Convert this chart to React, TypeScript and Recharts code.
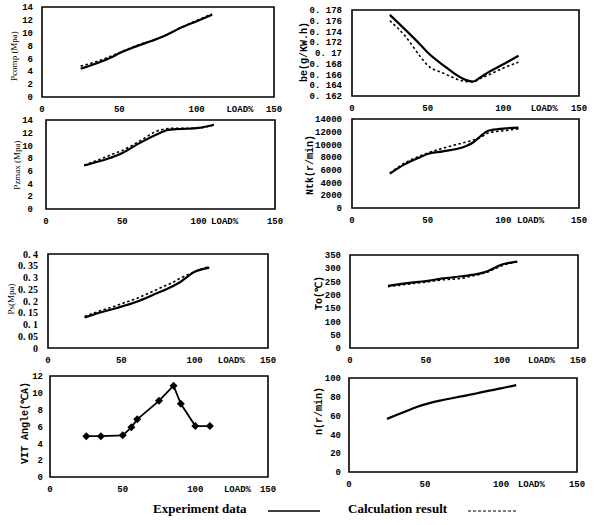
import React from 'react';
import { LineChart, Line, XAxis, YAxis, ReferenceArea } from 'recharts';

// Engine load points (LOAD %)
const loads = [25, 35, 45, 50, 60, 75, 80, 85, 90, 100, 110];

// Pcomp (Mpa)
const pcompExp = [4.4, 5.2, 6.2, 6.8, 7.8, 9.1, 9.6, 10.2, 10.8, 11.8, 12.8];
const pcompCalc = [4.8, 5.5, 6.4, 6.9, 7.9, 9.1, 9.6, 10.2, 10.8, 11.9, 12.9];

// be (g/KW.h)
const beExp = [0.1771, 0.1744, 0.1716, 0.1701, 0.1678, 0.165, 0.1647, 0.1655, 0.1664, 0.1679, 0.1695];
const beCalc = [0.176, 0.1732, 0.1694, 0.1677, 0.1663, 0.1647, 0.1646, 0.1653, 0.1659, 0.1672, 0.1683];

// Pzmax (Mpa)
const pzExp = [6.85, 7.5, 8.3, 8.8, 10.2, 12.0, 12.45, 12.55, 12.6, 12.75, 13.25];
const pzCalc = [6.9, 7.8, 8.75, 9.2, 10.5, 12.45, 12.65, 12.7, 12.7, 12.75, 13.25];

// Ntk (r/min)
const ntkExp = [5400, 6900, 8000, 8500, 8900, 9700, 10300, 11300, 12150, 12500, 12650];
const ntkCalc = [5500, 7100, 8200, 8650, 9400, 10350, 10650, 11100, 11800, 12150, 12450];

// Ps (Mpa)
const psExp = [0.13, 0.15, 0.167, 0.176, 0.196, 0.235, 0.248, 0.263, 0.28, 0.324, 0.342];
const psCalc = [0.134, 0.157, 0.177, 0.188, 0.21, 0.251, 0.265, 0.279, 0.296, 0.325, 0.347];

// To (℃)
const toExp = [234, 242, 249, 252, 261, 271, 275, 280, 288, 314, 325];
const toCalc = [231, 238, 245, 248, 256, 264, 271, 277, 285, 310, 325];

// n (r/min)
const nExp = [56.5, 63, 69.5, 72, 76, 80.8, 82.4, 84, 85.8, 88.9, 92.5];

// VIT Angle (℃A)
const vitLoads = [25, 35, 50, 56, 60, 75, 85, 90, 100, 110];
const vitAngle = [4.85, 4.85, 4.95, 5.9, 6.85, 9.05, 10.85, 8.7, 6.05, 6.05];

// Axis ticks
const pTicks = [0, 2, 4, 6, 8, 10, 12, 14];
const beTicks = [0.162, 0.164, 0.166, 0.168, 0.17, 0.172, 0.174, 0.176, 0.178];
const ntkTicks = [0, 2000, 4000, 6000, 8000, 10000, 12000, 14000];
const psTicks = [0, 0.05, 0.1, 0.15, 0.2, 0.25, 0.3, 0.35, 0.4];
const toTicks = [0, 50, 100, 150, 200, 250, 300, 350];
const vitTicks = [0, 2, 4, 6, 8, 10, 12];
const nTicks = [0, 20, 40, 60, 80, 100];

const rows = (xs: number[], a: number[], b?: number[]) =>
  xs.map((x, i) => ({ x, exp: a[i], calc: b ? b[i] : undefined }));

const fmtY = (v: number) => {
  const s = String(parseFloat(v.toFixed(3)));
  return s.replace('.', '. ');
};

const tickFont = { fontFamily: '"Liberation Mono", monospace', fontWeight: 700, fontSize: 9, fill: '#000' };
const serifTick = { fontFamily: '"Liberation Serif", serif', fontWeight: 700, fontSize: 10, fill: '#000' };

type PanelProps = {
  left: number; top: number; bw: number; bh: number;
  data: any[]; yMax: number; yMin: number; yTicks: number[];
  loadPos: number; yGap: number; label: string; labelX: number; labelY: number;
  labelSerif?: boolean; hasCalc?: boolean; vit?: boolean; yFont?: any;
};

const Diamond = (p: any) => {
  const { cx, cy, index } = p;
  if (cx == null || cy == null) return <g key={index} />;
  return <path key={index} d={`M${cx},${cy - 4}L${cx + 4},${cy}L${cx},${cy + 4}L${cx - 4},${cy}Z`} fill="#000" />;
};

function Panel(props: PanelProps) {
  const { left, top, bw, bh, data, yMax, yMin, yTicks, loadPos, yGap, label, labelX, labelY, labelSerif, hasCalc, vit, yFont } = props;
  const yW = 60, mt = 8, mr = 16, xH = 25;
  const ticks = [0, 50, 100, loadPos, 150];
  return (
    <>
      <div style={{ position: 'absolute', left: left - yW, top: top - mt }}>
        <LineChart width={yW + bw + mr} height={mt + bh + xH} data={data} margin={{ top: mt, right: mr, bottom: 0, left: 0 }}>
          <XAxis dataKey="x" type="number" domain={[0, 150]} ticks={ticks} interval={0} height={xH}
            axisLine={false} tickLine={false} tickSize={0} tickMargin={9} tick={tickFont}
            tickFormatter={(v: number) => (v === loadPos ? 'LOAD%' : String(v))} />
          <YAxis type="number" domain={[yMin, yMax]} ticks={yTicks} interval={0} width={yW}
            axisLine={false} tickLine={false} tickSize={0} tickMargin={yGap} tick={yFont || tickFont}
            tickFormatter={fmtY} allowDataOverflow />
          {hasCalc && (
            <Line dataKey="calc" type="monotone" stroke="#000" strokeWidth={1.6} strokeDasharray="2.5 2.5"
              dot={false} isAnimationActive={false} />
          )}
          <Line dataKey="exp" type={vit ? 'linear' : 'monotone'} stroke="#000" strokeWidth={vit ? 1.8 : 2.2}
            dot={vit ? Diamond : false} isAnimationActive={false} />
          <ReferenceArea x1={0} x2={150} y1={yMin} y2={yMax} fill="none" stroke="#000" strokeWidth={1.6} ifOverflow="visible" />
        </LineChart>
      </div>
      <div style={{
        position: 'absolute', left: labelX, top: labelY, transform: 'translate(-50%, -50%) rotate(-90deg)',
        whiteSpace: 'nowrap', lineHeight: 1,
        fontFamily: labelSerif ? '"Liberation Serif", serif' : '"Liberation Mono", monospace',
        fontWeight: labelSerif ? 400 : 700, fontSize: labelSerif ? 9 : 10, color: '#000',
      }}>{label}</div>
    </>
  );
}

export default function App() {
  return (
    <div style={{ position: 'absolute', left: 0, top: 0, width: 600, height: 525, background: '#fff', overflow: 'hidden' }}>
      <Panel left={42} top={7} bw={232} bh={90} data={rows(loads, pcompExp, pcompCalc)} yMin={0} yMax={14} yTicks={pTicks}
        loadPos={128} yGap={9} label="Pcomp (Mpa)" labelX={14} labelY={56} labelSerif hasCalc />
      <Panel left={352} top={10} bw={227} bh={86} data={rows(loads, beExp, beCalc)} yMin={0.162} yMax={0.178} yTicks={beTicks}
        loadPos={127} yGap={10} label="be(g/KW.h)" labelX={305} labelY={52} hasCalc />
      <Panel left={46} top={120} bw={229} bh={89} data={rows(loads, pzExp, pzCalc)} yMin={0} yMax={14} yTicks={pTicks}
        loadPos={117} yGap={13} label="Pzmax (Mpa)" labelX={17} labelY={165} labelSerif hasCalc />
      <Panel left={352} top={119} bw={227} bh={89} data={rows(loads, ntkExp, ntkCalc)} yMin={0} yMax={14000} yTicks={ntkTicks}
        loadPos={118} yGap={10} label="Ntk(r/min)" labelX={311} labelY={165} hasCalc />
      <Panel left={48} top={254} bw={220} bh={94} data={rows(loads, psExp, psCalc)} yMin={0} yMax={0.4} yTicks={psTicks}
        loadPos={125} yGap={10} label="Ps(Mpa)" labelX={11} labelY={299} labelSerif hasCalc yFont={serifTick} />
      <Panel left={350} top={255} bw={228} bh={93} data={rows(loads, toExp, toCalc)} yMin={0} yMax={350} yTicks={toTicks}
        loadPos={126} yGap={9} label="To(℃)" labelX={320} labelY={293} hasCalc />
      <Panel left={50} top={376} bw={218} bh={101} data={rows(vitLoads, vitAngle)} yMin={0} yMax={12} yTicks={vitTicks}
        loadPos={129} yGap={7} label="VIT Angle(℃A)" labelX={26} labelY={423} vit />
      <Panel left={349} top={378} bw={228} bh={94} data={rows(loads, nExp)} yMin={0} yMax={100} yTicks={nTicks}
        loadPos={120} yGap={8} label="n(r/min)" labelX={320} labelY={411} />
      <svg style={{ position: 'absolute', left: 0, top: 496 }} width={600} height={28}>
        <g style={{ fontFamily: '"Liberation Serif", serif', fontWeight: 700, fontSize: 13 }} fill="#000">
          <text x={153} y={17}>Experiment data</text>
          <text x={348} y={17}>Calculation result</text>
        </g>
        <line x1={268} x2={320} y1={15} y2={15} stroke="#000" strokeWidth={1.5} />
        <line x1={468} x2={518} y1={15} y2={15} stroke="#000" strokeWidth={1.2} strokeDasharray="3 2" />
      </svg>
    </div>
  );
}
